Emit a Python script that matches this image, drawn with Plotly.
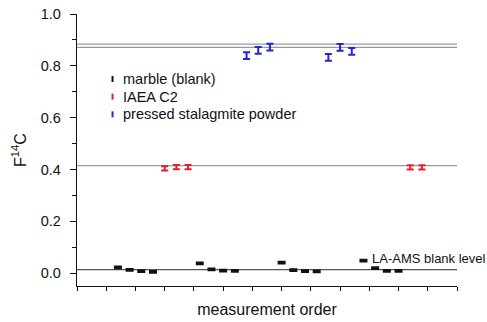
import plotly.graph_objects as go

# ---- data ----
marble_x = [1.4, 1.8, 2.2, 2.6, 4.2, 4.6, 5.0, 5.4, 7.0, 7.4, 7.8, 8.2, 9.8, 10.2, 10.6, 11.0]
marble_y = [0.022, 0.012, 0.007, 0.005, 0.037, 0.014, 0.009, 0.008, 0.040, 0.011, 0.007, 0.006, 0.048, 0.019, 0.008, 0.008]
marble_err = [0.003] * 16

c2_x = [3.0, 3.4, 3.8, 11.4, 11.8]
c2_y = [0.404, 0.409, 0.409, 0.408, 0.408]
c2_err = [0.008] * 5

stal_x = [5.8, 6.2, 6.6, 8.6, 9.0, 9.4]
stal_y = [0.839, 0.860, 0.872, 0.833, 0.871, 0.856]
stal_err = [0.013] * 6

ref_levels = [0.884, 0.871, 0.415]
blank_level = 0.013

series_names = ["marble (blank)", "IAEA C2", "pressed stalagmite powder"]
series_colors = ["#111111", "#e3202a", "#2424d6"]

FONT = "Liberation Sans, Arial, sans-serif"

W, H = 487, 322
L, R, T, B = 77.3, 30, 14, 36
pw, ph = W - L - R, H - T - B

def px(x):
    return (x - L) / pw

def py(y):
    return (H - B - y) / ph

fig = go.Figure()

for xs, ys, es, col, w, th in [
    (marble_x, marble_y, marble_err, series_colors[0], 4, 2.2),
    (c2_x, c2_y, c2_err, series_colors[1], 3.5, 2),
    (stal_x, stal_y, stal_err, series_colors[2], 3.5, 2),
]:
    fig.add_trace(go.Scatter(
        x=xs, y=ys, mode="markers",
        marker=dict(size=0.1, color=col, opacity=0),
        error_y=dict(type="data", array=es, visible=True, color=col, width=w, thickness=th),
        showlegend=False, hoverinfo="skip",
    ))

shapes = []
for lv in ref_levels:
    shapes.append(dict(type="line", xref="x domain", yref="y", x0=0, x1=1, y0=lv, y1=lv,
                       line=dict(color="#9a9a9a", width=1.3), layer="below"))
shapes.append(dict(type="line", xref="x domain", yref="y", x0=0, x1=1, y0=blank_level, y1=blank_level,
                   line=dict(color="#555555", width=1.3), layer="below"))

annotations = []
leg_y = [79, 96.7, 114.3]
for name, col, yy in zip(series_names, series_colors, leg_y):
    shapes.append(dict(type="line", xref="paper", yref="paper",
                       x0=px(112.8), x1=px(112.8), y0=py(yy + 3), y1=py(yy - 3),
                       line=dict(color=col, width=2)))
    annotations.append(dict(xref="paper", yref="paper", x=px(121.5), y=py(yy),
                            text=name, showarrow=False, xanchor="left", yanchor="middle",
                            font=dict(family=FONT, size=14.5, color="#111")))

annotations.append(dict(xref="paper", yref="paper", x=px(370.5), y=py(258.5),
                        text="LA-AMS blank level", showarrow=False, xanchor="left", yanchor="middle",
                        font=dict(family=FONT, size=13, color="#111")))

fig.update_layout(
    width=W, height=H,
    margin=dict(l=L, r=R, t=T, b=B, pad=0),
    paper_bgcolor="white", plot_bgcolor="white",
    font=dict(family=FONT, size=14, color="#111"),
    shapes=shapes, annotations=annotations,
    showlegend=False,
)

fig.update_xaxes(
    range=[0, 13], tick0=0, dtick=1, showticklabels=False,
    ticks="outside", ticklen=4, tickwidth=1.2, tickcolor="#111",
    showline=True, linecolor="#111", linewidth=1.3, showgrid=False, zeroline=False,
    title=dict(text="measurement order", font=dict(family=FONT, size=16, color="#111"), standoff=13),
    automargin=False,
)
fig.update_yaxes(
    range=[-0.05, 1.0], tick0=0, dtick=0.2, tickformat=".1f",
    ticks="outside", ticklen=6, tickwidth=1.2, tickcolor="#111",
    minor=dict(dtick=0.1, ticks="outside", ticklen=4, tickwidth=1.2, tickcolor="#111"),
    showline=True, linecolor="#111", linewidth=1.3, showgrid=False, zeroline=False,
    ticklabelstandoff=6,
    tickfont=dict(family=FONT, size=14.5, color="#111"),
    title=dict(text="F<sup>14</sup>C", font=dict(family=FONT, size=16, color="#111"), standoff=10),
    automargin=False,
)

fig.write_html("out.html")
